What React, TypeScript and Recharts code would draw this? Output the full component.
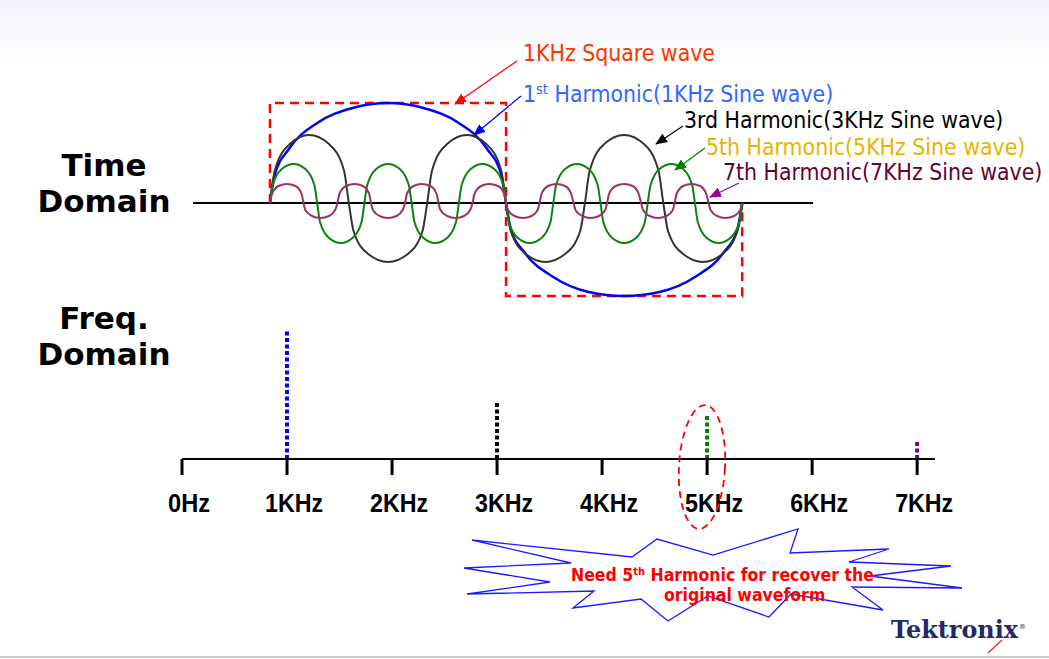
import React from 'react';
import { ComposedChart, Line, XAxis, YAxis, ReferenceLine, Bar } from 'recharts';

// ---- Time domain (t in microseconds over one 1 kHz period, value = amplitude, + is up)
const squareT = [0, 0, 500, 500, 1000, 1000];
const squareV = [0, 100, 100, -93, -93, 0];

const h1T = [0, 10, 40, 100, 175, 250, 325, 400, 460, 490, 500, 510, 540, 600, 675, 750, 825, 900, 960, 990, 1000];
const h1V = [0, 28, 54, 80, 95, 100, 95, 80, 54, 28, 0, -26, -50, -74, -89, -93, -89, -74, -50, -26, 0];

const h3T = [
  0, 10, 42, 83, 125, 157,
  167, 177, 208, 250, 292, 323,
  333, 343, 375, 417, 458, 490,
  500, 510, 542, 583, 625, 657,
  667, 677, 708, 750, 792, 823,
  833, 843, 875, 917, 958, 990,
  1000,
];
const h3V = [
  0, 32, 59, 68, 59, 32,
  0, -28, -51, -59, -51, -28,
  0, 32, 59, 68, 59, 32,
  0, -28, -51, -59, -51, -28,
  0, 32, 59, 68, 59, 32,
  0, -28, -51, -59, -51, -28,
  0,
];

const h5T = [
  0, 6, 25, 50, 75, 94,
  100, 106, 125, 150, 175, 194,
  200, 206, 225, 250, 275, 294,
  300, 306, 325, 350, 375, 394,
  400, 406, 425, 450, 475, 494,
  500, 506, 525, 550, 575, 594,
  600, 606, 625, 650, 675, 694,
  700, 706, 725, 750, 775, 794,
  800, 806, 825, 850, 875, 894,
  900, 906, 925, 950, 975, 994,
  1000,
];
const h5V = [
  0, 18, 34, 39, 34, 18,
  0, -19, -35, -40, -35, -19,
  0, 18, 34, 39, 34, 18,
  0, -19, -35, -40, -35, -19,
  0, 18, 34, 39, 34, 18,
  0, -19, -35, -40, -35, -19,
  0, 18, 34, 39, 34, 18,
  0, -19, -35, -40, -35, -19,
  0, 18, 34, 39, 34, 18,
  0, -19, -35, -40, -35, -19,
  0,
];

const h7T = [
  0, 4, 18, 36, 54, 67,
  71, 75, 89, 107, 125, 138,
  143, 147, 161, 179, 197, 210,
  214, 218, 232, 250, 268, 281,
  286, 290, 304, 321, 340, 353,
  357, 361, 375, 393, 411, 424,
  429, 433, 447, 464, 483, 496,
  500, 504, 518, 536, 554, 567,
  571, 575, 589, 607, 625, 638,
  643, 647, 661, 679, 697, 710,
  714, 718, 732, 750, 768, 781,
  786, 790, 804, 821, 840, 853,
  857, 861, 875, 893, 911, 924,
  929, 933, 947, 964, 983, 996,
  1000,
];
const h7V = [
  0, 9, 17, 19, 17, 9,
  0, -7, -13, -15, -13, -7,
  0, 9, 17, 19, 17, 9,
  0, -7, -13, -15, -13, -7,
  0, 9, 17, 19, 17, 9,
  0, -7, -13, -15, -13, -7,
  0, 9, 17, 19, 17, 9,
  0, -7, -13, -15, -13, -7,
  0, 9, 17, 19, 17, 9,
  0, -7, -13, -15, -13, -7,
  0, 9, 17, 19, 17, 9,
  0, -7, -13, -15, -13, -7,
  0, 9, 17, 19, 17, 9,
  0, -7, -13, -15, -13, -7,
  0,
];

// ---- Frequency domain
const harmonicFreq = [1, 3, 5, 7]; // kHz
const harmonicAmp = [128, 57, 44, 18];
const freqTicks = [0, 1, 2, 3, 4, 5, 6, 7];
const freqTickLabels = ['0Hz', '1KHz', '2KHz', '3KHz', '4KHz', '5KHz', '6KHz', '7KHz'];

const barColors = ['#0000ff', '#000000', '#008000', '#800080'];

const toPts = (ts: number[], vs: number[]) => ts.map((t, i) => ({ t, v: vs[i] }));
const squareData = toPts(squareT, squareV);
const h1Data = toPts(h1T, h1V);
const h3Data = toPts(h3T, h3V);
const h5Data = toPts(h5T, h5V);
const h7Data = toPts(h7T, h7V);
const freqData = harmonicFreq.map((f, i) => ({ f, a: harmonicAmp[i] }));

const W = 1049;
const H = 659;
const COND = "'DejaVu Sans Condensed', 'DejaVu Sans', sans-serif";

const DottedBar = (props: any) => {
  const { x, y, width, height, index } = props;
  const cx = x + width / 2;
  return (
    <line x1={cx} x2={cx} y1={y + height} y2={y} stroke={barColors[index]} strokeWidth={4} strokeDasharray="4 2.5" />
  );
};

const FreqTick = (props: any) => {
  const { x, y, payload, index } = props;
  const label = freqTickLabels[freqTicks.indexOf(payload.value)] ?? freqTickLabels[index];
  return (
    <text x={x + 7} y={y + 35} textAnchor="middle" fontFamily="'Liberation Sans Narrow', 'Liberation Sans', sans-serif" fontWeight="bold" fontSize={26} fill="#000" textLength={label.length > 3 ? 58 : 42} lengthAdjust="spacingAndGlyphs">
      {label}
    </text>
  );
};

const Arrow = ({ x1, y1, x2, y2, color, id }: any) => (
  <line x1={x1} y1={y1} x2={x2} y2={y2} stroke={color} strokeWidth={1.2} markerEnd={`url(#${id})`} />
);

export default function App() {
  return (
    <div style={{ position: 'absolute', left: 0, top: 0, width: W, height: H, background: '#fff', overflow: 'hidden' }}>
      <svg width={W} height={H} style={{ position: 'absolute', left: 0, top: 0 }}>
        <defs>
          <linearGradient id="topg" x1="0" y1="0" x2="0" y2="1">
            <stop offset="0" stopColor="#f2f3fa" />
            <stop offset="1" stopColor="#ffffff" />
          </linearGradient>
        </defs>
        <rect x={0} y={0} width={W} height={60} fill="url(#topg)" />
        <line x1={0} x2={W} y1={657} y2={657} stroke="#bdbdbd" strokeWidth={1.5} />
      </svg>

      <div style={{ position: 'absolute', left: 0, top: 0 }}>
        <ComposedChart width={W} height={H} margin={{ top: 93, right: 236, bottom: 346, left: 193 }}>
          <XAxis type="number" dataKey="t" domain={[-163, 1150]} hide allowDataOverflow />
          <YAxis type="number" domain={[-110, 110]} hide allowDataOverflow />
          <ReferenceLine y={0} stroke="#000" strokeWidth={1.3} shapeRendering="crispEdges" />
          <Line data={squareData} dataKey="v" type="linear" stroke="#ff0000" strokeWidth={2.5} strokeDasharray="9 6" dot={false} isAnimationActive={false} />
          <Line data={h1Data} dataKey="v" type="monotone" stroke="#0000ff" strokeWidth={2.5} dot={false} isAnimationActive={false} />
          <Line data={h3Data} dataKey="v" type="monotone" stroke="#333333" strokeWidth={2} dot={false} isAnimationActive={false} />
          <Line data={h5Data} dataKey="v" type="monotone" stroke="#0a840a" strokeWidth={2} dot={false} isAnimationActive={false} />
          <Line data={h7Data} dataKey="v" type="monotone" stroke="#993366" strokeWidth={2} dot={false} isAnimationActive={false} />
        </ComposedChart>
      </div>

      <div style={{ position: 'absolute', left: 0, top: 0 }}>
        <ComposedChart width={W} height={H} data={freqData} margin={{ top: 267, right: 114, bottom: 140, left: 182 }}>
          <XAxis
            type="number"
            dataKey="f"
            domain={[0, 7.17]}
            ticks={freqTicks}
            allowDataOverflow
            height={60}
            axisLine={{ stroke: '#000', strokeWidth: 2 }}
            tickLine={{ stroke: '#000', strokeWidth: 3 }}
            tickSize={16}
            tick={<FreqTick />}
            interval={0}
          />
          <YAxis type="number" domain={[0, 192]} width={0} tick={false} tickLine={false} axisLine={{ stroke: '#000', strokeWidth: 1.5 }} />
          <Bar dataKey="a" barSize={4} shape={<DottedBar />} isAnimationActive={false} />
        </ComposedChart>
      </div>

      <svg width={W} height={H} style={{ position: 'absolute', left: 0, top: 0, pointerEvents: 'none' }}>
        <defs>
          {[
            ['ah-red', '#ff0000'],
            ['ah-blue', '#0000ff'],
            ['ah-black', '#000000'],
            ['ah-green', '#008000'],
            ['ah-purple', '#990099'],
          ].map(([id, c]) => (
            <marker key={id} id={id} viewBox="0 0 12 10" refX="11" refY="5" markerWidth="12" markerHeight="10" markerUnits="userSpaceOnUse" orient="auto">
              <path d="M0,0 L12,5 L0,10 z" fill={c} />
            </marker>
          ))}
        </defs>

        <g fontFamily="'DejaVu Sans', sans-serif" fontWeight="bold" fontSize={31} fill="#000" textAnchor="middle">
          <text x={104} y={176}>Time</text>
          <text x={104} y={212}>Domain</text>
          <text x={104} y={329}>Freq.</text>
          <text x={104} y={365}>Domain</text>
        </g>

        <g fontFamily={COND} fontSize={22.8} style={{ fontStretch: 'condensed' }}>
          <text x={523} y={60.5} fill="#ff3300">1KHz Square wave</text>
          <text x={523} y={102} fill="#3366ff">
            1<tspan fontSize={14.5} dy={-8}>st</tspan>
            <tspan dy={8}> Harmonic(1KHz Sine wave)</tspan>
          </text>
          <text x={684} y={128} fill="#000">3rd Harmonic(3KHz Sine wave)</text>
          <text x={706} y={155} fill="#e8b400">5th Harmonic(5KHz Sine wave)</text>
          <text x={723} y={180} fill="#660033">7th Harmonic(7KHz Sine wave)</text>
        </g>

        <Arrow x1={517} y1={61} x2={455} y2={104} color="#ff0000" id="ah-red" />
        <Arrow x1={521} y1={96} x2={474} y2={135} color="#0000ff" id="ah-blue" />
        <Arrow x1={683} y1={126} x2={656} y2={144} color="#000000" id="ah-black" />
        <Arrow x1={705} y1={148} x2={675} y2={170} color="#008000" id="ah-green" />
        <Arrow x1={739} y1={183} x2={710} y2={197} color="#990099" id="ah-purple" />

        <ellipse cx={702} cy={467} rx={23} ry={62} transform="rotate(3 702 467)" fill="none" stroke="#ff0000" strokeWidth={1.8} strokeDasharray="7 5" />

        <polygon
          points="472,540 632,557 657,539 713,555 798,529 790,553 889,549 849,562 951,566 870,576 962,588 852,587 883,610 791,594 769,617 708,596 668,621 641,599 573,608 594,591 467,594 550,582 464,568 571,563"
          fill="none"
          stroke="#1a1aff"
          strokeWidth={1.3}
        />
        <g fontFamily={COND} fontWeight="bold" fontSize={17.5} fill="#ff0000" style={{ fontStretch: 'condensed' }}>
          <text x={571} y={581}>
            Need 5<tspan fontSize={11} dy={-6}>th</tspan>
            <tspan dy={6}> Harmonic for recover the</tspan>
          </text>
          <text x={664} y={601}>original waveform</text>
        </g>

        <text x={891} y={638} fontFamily="'DejaVu Serif', serif" fontWeight="bold" fontSize={24} fill="#1e2a6a" textLength={127} lengthAdjust="spacingAndGlyphs">Tektronix</text>
        <text x={1019} y={629} fontFamily="'DejaVu Sans', sans-serif" fontSize={7} fill="#1e2a6a">®</text>
        <line x1={988} y1={653} x2={1002} y2={640} stroke="#e03535" strokeWidth={1.5} />
      </svg>
    </div>
  );
}
